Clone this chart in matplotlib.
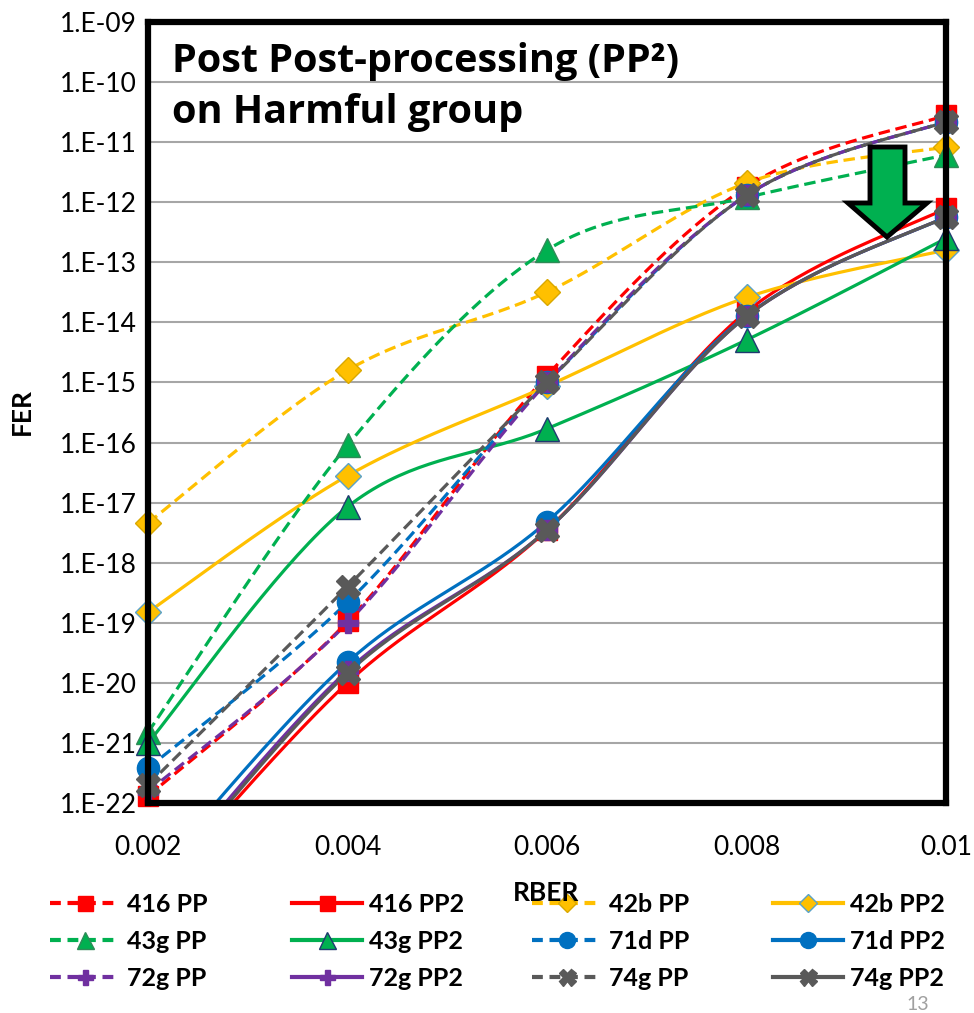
import numpy as np
import matplotlib
matplotlib.use("Agg")
import matplotlib.pyplot as plt
from matplotlib.lines import Line2D
from matplotlib.patches import Polygon

plt.rcParams['font.family'] = ['Lato', 'DejaVu Sans']

rber = [0.002, 0.004, 0.006, 0.008, 0.010]

fer_416_pp  = [1.3e-22, 1.05e-19, 1.3e-15, 1.8e-12, 2.8e-11]
fer_416_pp2 = [2.5e-24, 1.0e-20, 3.5e-18, 1.5e-14, 7.9e-13]
fer_42b_pp  = [4.6e-18, 1.6e-15, 3.2e-14, 2.1e-12, 8.3e-12]
fer_42b_pp2 = [1.5e-19, 2.8e-17, 8.7e-16, 2.6e-14, 1.6e-13]
fer_43g_pp  = [1.5e-21, 9.0e-17, 1.6e-13, 1.2e-12, 6.1e-12]
fer_43g_pp2 = [1.0e-21, 8.5e-18, 1.7e-16, 5.1e-15, 2.5e-13]
fer_71d_pp  = [3.8e-22, 2.2e-19, 1.0e-15, 1.3e-12, 2.2e-11]
fer_71d_pp2 = [5.0e-24, 2.2e-20, 4.8e-18, 1.3e-14, 5.7e-13]
fer_72g_pp  = [1.55e-22, 1.0e-19, 1.0e-15, 1.3e-12, 2.2e-11]
fer_72g_pp2 = [3.0e-24, 1.6e-20, 3.5e-18, 1.26e-14, 5.7e-13]
fer_74g_pp  = [2.0e-22, 4.0e-19, 1.0e-15, 1.3e-12, 2.2e-11]
fer_74g_pp2 = [2.5e-24, 1.45e-20, 3.5e-18, 1.26e-14, 5.7e-13]

y_ticks = [1e-9, 1e-10, 1e-11, 1e-12, 1e-13, 1e-14, 1e-15, 1e-16, 1e-17,
           1e-18, 1e-19, 1e-20, 1e-21, 1e-22]
y_tick_labels = ["1.E-09", "1.E-10", "1.E-11", "1.E-12", "1.E-13", "1.E-14",
                 "1.E-15", "1.E-16", "1.E-17", "1.E-18", "1.E-19", "1.E-20",
                 "1.E-21", "1.E-22"]
x_ticks = [0.002, 0.004, 0.006, 0.008, 0.010]
x_tick_labels = ["0.002", "0.004", "0.006", "0.008", "0.01"]

RED, YEL, GRN, BLU, PUR, GRY = "#FF0000", "#FFC000", "#00B050", "#0070C0", "#7030A0", "#595959"

series = [
    # label, data, color, ls, marker, mfc, mec, ms
    ("416 PP", fer_416_pp, RED, "--", "s", RED, RED, 15),
    ("416 PP2", fer_416_pp2, RED, "-", "s", RED, RED, 15),
    ("42b PP", fer_42b_pp, YEL, "--", "D", YEL, "#D9A800", 13),
    ("42b PP2", fer_42b_pp2, YEL, "-", "D", YEL, "#5BA3C8", 13),
    ("43g PP", fer_43g_pp, GRN, "--", "^", GRN, "#2E8B57", 17),
    ("43g PP2", fer_43g_pp2, GRN, "-", "^", GRN, "#1F3A70", 17),
    ("71d PP", fer_71d_pp, BLU, "--", "o", BLU, BLU, 16),
    ("71d PP2", fer_71d_pp2, BLU, "-", "o", BLU, BLU, 16),
    ("72g PP", fer_72g_pp, PUR, "--", "P", PUR, PUR, 15),
    ("72g PP2", fer_72g_pp2, PUR, "-", "P", PUR, PUR, 15),
    ("74g PP", fer_74g_pp, GRY, "--", "X", GRY, GRY, 17),
    ("74g PP2", fer_74g_pp2, GRY, "-", "X", GRY, GRY, 17),
]


def smooth(x, y, n=40):
    """Excel-like smoothed line (Catmull-Rom Bezier) in (x, log10 y) space."""
    P = np.column_stack([np.asarray(x, float), np.log10(np.asarray(y, float))])
    out = []
    t = np.linspace(0, 1, n)[:, None]
    for i in range(len(P) - 1):
        p0 = P[i - 1] if i > 0 else P[i]
        p1, p2 = P[i], P[i + 1]
        p3 = P[i + 2] if i + 2 < len(P) else P[i + 1]
        c1 = p1 + (p2 - p0) / 6.0
        c2 = p2 - (p3 - p1) / 6.0
        b = ((1 - t) ** 3) * p1 + 3 * ((1 - t) ** 2) * t * c1 + 3 * (1 - t) * t ** 2 * c2 + t ** 3 * p2
        out.append(b if i == 0 else b[1:])
    B = np.vstack(out)
    return B[:, 0], 10 ** B[:, 1]


fig = plt.figure(figsize=(9.74, 10.13), dpi=100)
ax = fig.add_axes([148 / 974, 1 - 803 / 1013, (946 - 148) / 974, (803 - 22) / 1013])
ax.set_yscale("log")
ax.set_xlim(0.002, 0.010)
ax.set_ylim(1e-22, 1e-9)

ymin, ymax = 1e-22, 1e-9
handles = []
for label, data, col, ls, mk, mfc, mec, ms in series:
    sx, sy = smooth(rber, data)
    ln, = ax.plot(sx, sy, color=col, lw=2.3, ls=ls, zorder=3)
    if ls == "--":
        ln.set_dashes((3.6, 1.8))
    xs = [xv for xv, yv in zip(rber, data) if ymin * 0.999 <= yv <= ymax]
    ys = [yv for yv in data if ymin * 0.999 <= yv <= ymax]
    ax.plot(xs, ys, ls="none", marker=mk, ms=ms, mfc=mfc, mec=mec, mew=1.0,
            clip_on=False, zorder=4)
    h = Line2D([], [], color=col, lw=3, ls=ls, marker=mk, ms=ms * 0.72,
               mfc=mfc, mec=mec, mew=1.0)
    if ls == "--":
        h.set_dashes((2.6, 1.6))
    handles.append((h, label))

ax.set_yticks(y_ticks)
ax.set_yticklabels(y_tick_labels)
ax.yaxis.set_minor_locator(matplotlib.ticker.NullLocator())
ax.set_xticks(x_ticks)
ax.set_xticklabels(x_tick_labels)
ax.tick_params(axis="both", length=0, labelsize=19, pad=8)
ax.tick_params(axis="x", pad=23)
ax.grid(axis="y", color="#A6A6A6", lw=1.5)
ax.grid(axis="x", visible=False)
ax.set_axisbelow(True)
for s in ax.spines.values():
    s.set_linewidth(4.5)
    s.set_color("black")
    s.set_zorder(5)

# axis titles
fig.text(22 / 974, 1 - 412 / 1013, "FER", rotation=90, fontsize=19, fontweight="bold",
         ha="center", va="center")
fig.text(546 / 974, 1 - 893 / 1013, "RBER", fontsize=19, fontweight="bold",
         ha="center", va="center", zorder=10)

# title text inside the plot
fig.text(172 / 974, 1 - 72 / 1013, "Post Post-processing (PP²)",
         fontsize=28.5, fontweight="bold", va="baseline", ha="left",
         family=["Open Sans", "DejaVu Sans"])
fig.text(172 / 974, 1 - 123 / 1013, "on Harmful group",
         fontsize=28.5, fontweight="bold", va="baseline", ha="left",
         family=["Open Sans", "DejaVu Sans"])

# green arrow annotation (figure pixel coordinates)
arrow_px = [(870, 147), (905, 147), (905, 203), (927, 203), (887, 237),
            (848, 203), (870, 203)]
arrow = Polygon([(x / 974, 1 - y / 1013) for x, y in arrow_px], closed=True,
                transform=fig.transFigure, facecolor="#00B050", edgecolor="black",
                lw=3.5, zorder=20)
fig.patches.append(arrow)

# legend: 4 columns, row-major order
col_x = [50, 292, 532, 773]
for c in range(4):
    items = [handles[c + 4 * r] for r in range(3)]
    leg = fig.legend([h for h, _ in items], [l for _, l in items],
                     loc="upper left", bbox_to_anchor=(col_x[c] / 974, 1 - 893 / 1013),
                     frameon=False, fontsize=18, handlelength=2.8, handletextpad=0.28,
                     labelspacing=0.55, borderpad=0, borderaxespad=0)
    for t in leg.get_texts():
        t.set_fontweight("bold")

fig.text(918 / 974, 1 - 1004 / 1013, "13", fontsize=14, color="#A0A0A0", ha="center", va="center")

fig.savefig("out.png", dpi=100)
